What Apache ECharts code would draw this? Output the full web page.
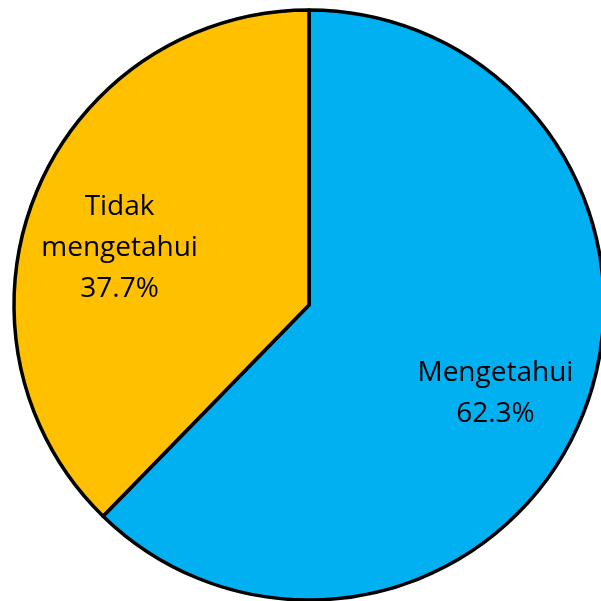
<!DOCTYPE html>
<html>
<head>
<meta charset="UTF-8">
<script src="https://cdn.jsdelivr.net/npm/echarts@6/dist/echarts.min.js"></script>
<style>
  html, body { margin: 0; padding: 0; background: #fff; }
  #main { width: 601px; height: 601px; }
</style>
</head>
<body>
<div id="main"></div>
<script>
  // data
  var names = ['Mengetahui', 'Tidak\nmengetahui'];
  var values = [62.3, 37.7];
  var colors = ['#00B0F0', '#FFC000'];

  // label nudges so they sit where the original put them
  var labelShift = [[-3, 11], [0, 20]];

  var slices = [];
  var labelSlices = [];
  for (var i = 0; i < names.length; i++) {
    slices.push({ name: names[i], value: values[i], itemStyle: { color: colors[i] } });
    labelSlices.push({ name: names[i], value: values[i], label: { offset: labelShift[i] } });
  }

  var chart = echarts.init(document.getElementById('main'));
  chart.setOption({
    animation: false,
    series: [{
      type: 'pie',
      center: [309, 305],
      radius: 295,
      startAngle: 90,
      silent: true,
      label: { show: false },
      labelLine: { show: false },
      itemStyle: { borderColor: '#000', borderWidth: 3.5 },
      data: slices
    }, {
      // transparent ring only used to place the labels further out
      type: 'pie',
      center: [309, 305],
      radius: [108, 295],
      startAngle: 90,
      silent: true,
      itemStyle: { color: 'rgba(0,0,0,0)', borderWidth: 0 },
      label: {
        show: true,
        position: 'inside',
        color: '#000',
        fontFamily: 'Open Sans, sans-serif',
        fontSize: 28,
        lineHeight: 41,
        formatter: function (p) { return p.name + '\n' + p.value.toFixed(1) + '%'; }
      },
      labelLine: { show: false },
      data: labelSlices
    }]
  });
</script>
</body>
</html>
